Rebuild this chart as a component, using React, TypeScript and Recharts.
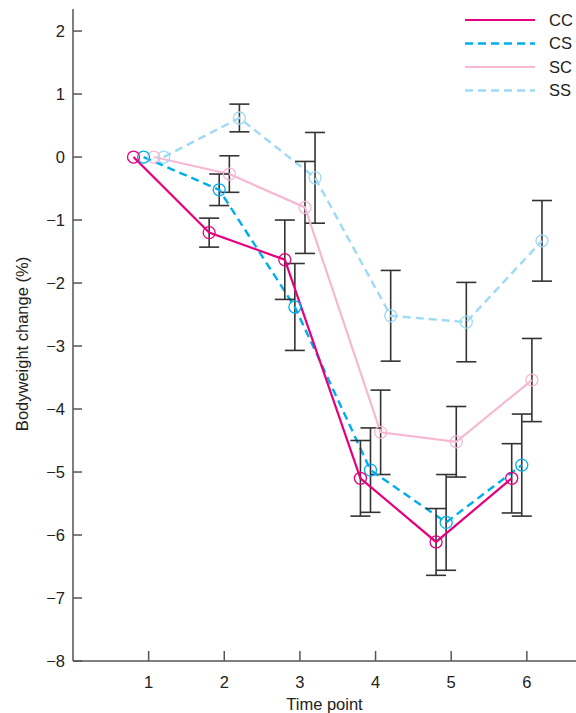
import React from 'react';
import { LineChart, Line, XAxis, YAxis, ErrorBar } from 'recharts';

// time points on the x axis
const timePoints = [1, 2, 3, 4, 5, 6];
const yTicks = [-8, -7, -6, -5, -4, -3, -2, -1, 0, 1, 2];

// mean bodyweight change (%) and error per group
const ccMean = [0, -1.2, -1.63, -5.1, -6.11, -5.1];
const ccErr = [0, 0.23, 0.63, 0.6, 0.53, 0.55];
const csMean = [0, -0.52, -2.38, -4.97, -5.8, -4.89];
const csErr = [0, 0.25, 0.69, 0.67, 0.76, 0.81];
const scMean = [0, -0.27, -0.8, -4.37, -4.52, -3.54];
const scErr = [0, 0.29, 0.73, 0.67, 0.56, 0.66];
const ssMean = [0, 0.62, -0.33, -2.52, -2.62, -1.33];
const ssErr = [0, 0.22, 0.72, 0.72, 0.63, 0.64];

const FONT = '"Liberation Sans", Arial, sans-serif';
const AXIS = '#555';
const FS = 16.5;

const series = [
  { name: 'CC', mean: ccMean, err: ccErr, shift: -0.2, color: '#e6007e', width: 2.2, dash: undefined },
  { name: 'CS', mean: csMean, err: csErr, shift: -0.067, color: '#00aeef', width: 2.4, dash: '8 5' },
  { name: 'SC', mean: scMean, err: scErr, shift: 0.067, color: '#f7b8d3', width: 2.2, dash: undefined },
  { name: 'SS', mean: ssMean, err: ssErr, shift: 0.2, color: '#9ddaf5', width: 2.4, dash: '8 5' },
];

const toPoints = (mean: number[], err: number[], shift: number) =>
  timePoints.map((t, i) => ({ x: t + shift, y: mean[i], err: err[i] || null }));

const ChartLegend = () => (
  <svg width={118} height={100} style={{ position: 'absolute', left: 458, top: 8, fontFamily: FONT }}>
    {series.map((s, i) => (
      <g key={s.name}>
        <line x1={7} x2={77} y1={12 + i * 23.5} y2={12 + i * 23.5} stroke={s.color} strokeWidth={s.width} strokeDasharray={s.dash} />
        <text x={91} y={12 + i * 23.5} dy="0.36em" fontSize={FS} fill="#222">{s.name}</text>
      </g>
    ))}
  </svg>
);

const App: React.FC = () => {
  const order = [...series].reverse();
  return (
    <div style={{ position: 'absolute', left: 0, top: 0, width: 576, height: 713, background: '#fff' }}>
      <LineChart width={576} height={713} margin={{ top: 9, right: 0, bottom: 0, left: 0 }} style={{ fontFamily: FONT }}>
        <XAxis
          type="number"
          dataKey="x"
          domain={[0, 6.65]}
          ticks={timePoints}
          allowDataOverflow
          height={52}
          tickSize={-10}
          tickMargin={25}
          stroke={AXIS}
          strokeWidth={1.5}
          tick={{ fill: '#222', fontSize: FS }}
          label={{ value: 'Time point', position: 'insideBottom', offset: 3, fill: '#222', fontSize: FS }}
        />
        <YAxis
          type="number"
          dataKey="y"
          domain={[-8, 2.35]}
          ticks={yTicks}
          allowDataOverflow
          width={73}
          tickSize={-9}
          tickMargin={17}
          stroke={AXIS}
          strokeWidth={1.5}
          tick={{ fill: '#222', fontSize: FS }}
          tickFormatter={(v: number) => (v < 0 ? `\u2212${Math.abs(v)}` : `${v}`)}
          label={{
            content: () => (
              <text x={22} y={344} dy="0.36em" transform="rotate(-90 22 344)" textAnchor="middle" fontSize={FS} fill="#222">
                Bodyweight change (%)
              </text>
            ),
          }}
        />
        {order.map((s) => (
          <Line
            key={s.name}
            data={toPoints(s.mean, s.err, s.shift)}
            dataKey="y"
            name={s.name}
            type="linear"
            stroke={s.color}
            strokeWidth={s.width}
            strokeDasharray={s.dash}
            dot={{ r: 6, fill: 'none', stroke: s.color, strokeWidth: 1.3, strokeDasharray: '' }}
            activeDot={false}
            isAnimationActive={false}
          >
            <ErrorBar dataKey="err" direction="y" width={10} stroke="#333" strokeWidth={1.6} />
          </Line>
        ))}
      </LineChart>
      <ChartLegend />
    </div>
  );
};

export default App;
